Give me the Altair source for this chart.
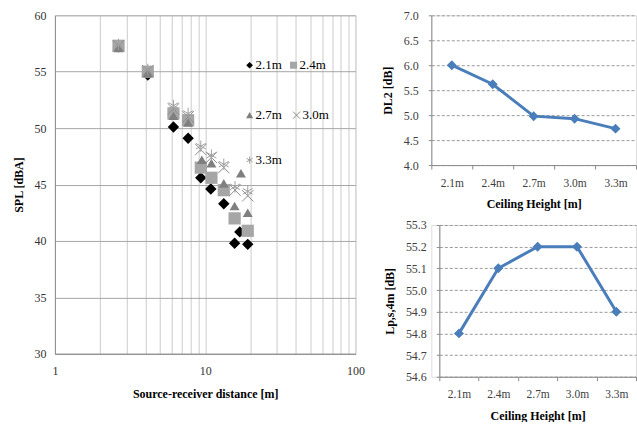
import altair as alt
import pandas as pd

FONT = "Liberation Serif"

# ---- left panel data: distance [m] and SPL [dBA] per ceiling height ----
dist_21 = [2.65, 4.15, 6.15, 7.7, 9.35, 10.9, 13.3, 15.7, 17.0, 19.2]
spl_21 = [57.2, 54.7, 50.1, 49.1, 45.6, 44.6, 43.3, 39.8, 40.8, 39.7]
dist_24 = [2.65, 4.15, 6.15, 7.7, 9.35, 11.0, 13.3, 15.7, 19.2]
spl_24 = [57.3, 55.0, 51.3, 50.7, 46.5, 45.6, 44.5, 42.0, 40.9]
dist_27 = [2.65, 4.15, 6.15, 7.7, 9.5, 11.0, 13.3, 15.7, 17.3, 19.2]
spl_27 = [57.1, 54.9, 51.1, 50.5, 47.2, 46.9, 45.1, 43.1, 46.0, 42.5]
dist_30 = [2.65, 4.15, 6.15, 7.7, 9.35, 11.0, 13.3, 15.8, 19.2]
spl_30 = [57.3, 55.1, 51.7, 51.0, 48.1, 47.4, 46.5, 44.5, 44.0]
dist_33 = [2.65, 4.15, 6.15, 7.7, 9.35, 11.0, 13.3, 15.8, 19.2]
spl_33 = [57.4, 55.2, 52.0, 51.3, 48.4, 47.6, 46.8, 44.8, 44.4]

# ---- right panels ----
heights = ["2.1m", "2.4m", "2.7m", "3.0m", "3.3m"]
dl2 = [6.0, 5.62, 4.98, 4.93, 4.73]
lps4m = [54.8, 55.1, 55.2, 55.2, 54.9]

x_ticks = [1, 2, 3, 4, 5, 6, 7, 8, 9, 10, 20, 30, 40, 50, 60, 70, 80, 90, 100]
y_ticks = [30, 35, 40, 45, 50, 55, 60]

X_PATH = "M-1,-1L1,1M-1,1L1,-1"
STAR_PATH = "M0,-1L0,1M-0.87,-0.5L0.87,0.5M-0.87,0.5L0.87,-0.5"

x_enc = alt.X(
    "d:Q",
    scale=alt.Scale(type="log", domain=[1, 100]),
    axis=alt.Axis(
        values=x_ticks,
        labelExpr="(datum.value == 1 || datum.value == 10 || datum.value == 100) ? datum.value : ''",
        ticks=False, labelFlush=False, labelOverlap=False,
        gridColor="#cccccc", domainColor="#8c8c8c",
        labelFont=FONT, labelFontSize=12, labelColor="#333333", labelPadding=12,
        title="Source-receiver distance [m]", titleFont=FONT, titleFontSize=12,
        titleFontWeight="bold", titleColor="#000000", titlePadding=12,
    ),
)
y_enc = alt.Y(
    "s:Q",
    scale=alt.Scale(domain=[30, 60]),
    axis=alt.Axis(
        values=y_ticks, ticks=False,
        gridColor="#a6a6a6", domainColor="#8c8c8c",
        labelFont=FONT, labelFontSize=12, labelColor="#333333", labelPadding=9,
        title="SPL [dBA]", titleFont=FONT, titleFontSize=12,
        titleFontWeight="bold", titleColor="#000000", titlePadding=8,
    ),
)


def series(d, s, **mark):
    df = pd.DataFrame({"d": d, "s": s})
    return alt.Chart(df).mark_point(opacity=1, **mark).encode(x=x_enc, y=y_enc)


one = pd.DataFrame({"k": [0]})


def legend_item(px, py, label, **mark):
    sym = alt.Chart(one).mark_point(opacity=1, **mark).encode(
        x=alt.value(px), y=alt.value(py))
    txt = alt.Chart(one).mark_text(align="left", baseline="middle", font=FONT,
                                   fontSize=13, color="#000000").encode(
        x=alt.value(px + 6), y=alt.value(py), text=alt.value(label))
    return [sym, txt]


layers = [
    series(dist_21, spl_21, shape="diamond", filled=True, color="#000000", size=130),
    series(dist_24, spl_24, shape="square", filled=True, color="#a6a6a6", size=150),
    series(dist_27, spl_27, shape="triangle-up", filled=True, color="#7f7f7f", size=100),
    series(dist_30, spl_30, shape=X_PATH, filled=False, color="#8c8c8c", size=130, strokeWidth=1),
    series(dist_33, spl_33, shape=STAR_PATH, filled=False, color="#a0a0a0", size=130, strokeWidth=1),
]
layers += legend_item(195, 50, "2.1m", shape="diamond", filled=True, color="#000000", size=45)
layers += legend_item(239, 50, "2.4m", shape="square", filled=True, color="#a6a6a6", size=50)
layers += legend_item(195, 100, "2.7m", shape="triangle-up", filled=True, color="#7f7f7f", size=50)
layers += legend_item(242, 100, "3.0m", shape=X_PATH, filled=False, color="#8c8c8c", size=50, strokeWidth=1)
layers += legend_item(195, 145, "3.3m", shape=STAR_PATH, filled=False, color="#a0a0a0", size=50, strokeWidth=1)

left = alt.layer(*layers).properties(width=301, height=339)


def cat_chart(values, field, ymin, ymax, step, title):
    df = pd.DataFrame({"h": heights, field: values})
    n = int(round((ymax - ymin) / step))
    yt = [round(ymin + i * step, 2) for i in range(n + 1)]
    xe = alt.X(
        "h:N", sort=heights,
        scale=alt.Scale(type="band", paddingInner=0, paddingOuter=0),
        axis=alt.Axis(
            tickBand="extent", labelAngle=0, tickSize=4, tickColor="#8c8c8c",
            domainColor="#8c8c8c", grid=False,
            labelFont=FONT, labelFontSize=11.5, labelColor="#404040", labelPadding=8,
            title="Ceiling Height [m]", titleFont=FONT, titleFontSize=12,
            titleFontWeight="bold", titleColor="#000000", titlePadding=10,
        ),
    )
    ye = alt.Y(
        f"{field}:Q", scale=alt.Scale(domain=[ymin, ymax], nice=False, zero=False),
        axis=alt.Axis(
            values=yt, format=".1f", tickSize=3, tickColor="#8c8c8c",
            domainColor="#8c8c8c", gridColor="#9a9a9a", gridDash=[3, 2],
            labelFont=FONT, labelFontSize=12, labelColor="#404040", labelPadding=10,
            title=title, titleFont=FONT, titleFontSize=12,
            titleFontWeight="bold", titleColor="#000000", titlePadding=9,
        ),
    )
    base = alt.Chart(df).encode(x=xe, y=ye)
    line = base.mark_line(color="#4a7ebb", strokeWidth=3)
    pts = base.mark_point(shape="diamond", filled=True, color="#4a7ebb", size=100, opacity=1)
    return alt.layer(line, pts)


top = cat_chart(dl2, "dl2", 4.0, 7.0, 0.5, "DL2 [dB]").properties(width=205, height=150)
bottom = cat_chart(lps4m, "lp", 54.6, 55.3, 0.1, "Lp,s,4m [dB]").properties(width=197, height=152)

# invisible 8px spacer so the lower panel starts a little further right
spacer = alt.Chart(one).mark_point(opacity=0).encode(
    x=alt.value(0), y=alt.value(0)).properties(width=8, height=152)
bottom_row = alt.hconcat(spacer, bottom, spacing=0, bounds="flush")

right = alt.vconcat(top, bottom_row, spacing=60, bounds="flush")

chart = alt.hconcat(left, right, spacing=76, bounds="flush").properties(
    padding={"left": 12, "top": 8, "right": 0, "bottom": 0}
).configure_view(stroke=None).configure(background="white")

chart.save("out.html", embed_options={"renderer": "svg", "actions": False})
